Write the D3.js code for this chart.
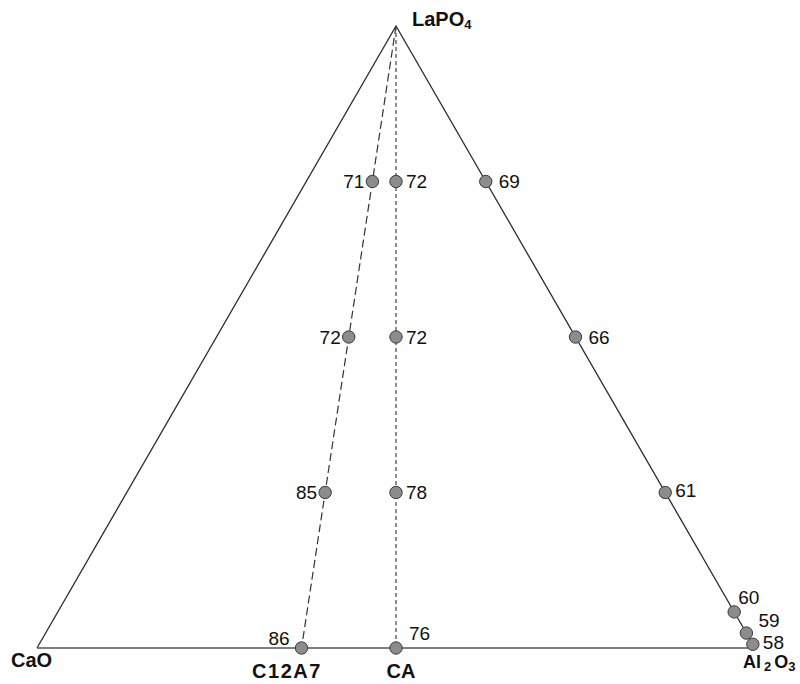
<!DOCTYPE html>
<html>
<head>
<meta charset="utf-8">
<script src="https://cdn.jsdelivr.net/npm/d3@7/dist/d3.min.js"></script>
<style>
  html, body { margin: 0; padding: 0; background: #fff; }
  svg { display: block; font-family: "Liberation Sans", Arial, Helvetica, sans-serif; }
</style>
</head>
<body>
<svg id="chart" width="800" height="684"></svg>
<script>
// ---- Data ----
const vertices = ["CaO", "Al2O3", "LaPO4"];
const joinNames = ["C12A7", "CA"];
const c12a7AlFraction = 7 / 19;   // Al2O3 share of C12A7 (12CaO·7Al2O3)
const caAlFraction = 0.5;         // Al2O3 share of CA (CaO·Al2O3)
const joinLaPO4 = [0.75, 0.5, 0.25, 0];
const c12a7Values = [71, 72, 85, 86];
const caValues = [72, 72, 78, 76];
const edgeLaPO4 = [0.75, 0.5, 0.25, 0.058, 0.024, 0.006];
const edgeValues = [69, 66, 61, 60, 59, 58];

// ---- Scales ----
const svg = d3.select("#chart");
const H = Math.sqrt(3) / 2;
const x = d3.scaleLinear().domain([0, 1]).range([37, 755]);
const y = d3.scaleLinear().domain([0, H]).range([648, 26]);

// ternary -> cartesian (la = LaPO4, al = Al2O3, rest CaO)
function proj(la, al) {
  return [x(al + la / 2), y(la * H)];
}

// ---- Points ----
const pts = [];
joinLaPO4.forEach((la, i) => {
  pts.push({ set: "C12A7", la, al: (1 - la) * c12a7AlFraction, v: c12a7Values[i], i });
});
joinLaPO4.forEach((la, i) => {
  pts.push({ set: "CA", la, al: (1 - la) * caAlFraction, v: caValues[i], i });
});
edgeLaPO4.forEach((la, i) => {
  pts.push({ set: "edge", la, al: 1 - la, v: edgeValues[i], i });
});

// ---- Triangle ----
const A = proj(0, 0), B = proj(0, 1), C = proj(1, 0);
svg.append("path")
  .attr("d", `M${A[0]},${A[1]}L${C[0]},${C[1]}L${B[0]},${B[1]}`)
  .attr("fill", "none").attr("stroke", "#2a2a2a").attr("stroke-width", 1.3);
svg.append("line")
  .attr("x1", A[0]).attr("y1", A[1]).attr("x2", B[0]).attr("y2", B[1])
  .attr("stroke", "#555").attr("stroke-width", 1.5);

// ---- Join lines ----
const c12Base = proj(0, c12a7AlFraction);
svg.append("line")
  .attr("x1", C[0]).attr("y1", C[1]).attr("x2", c12Base[0]).attr("y2", c12Base[1])
  .attr("stroke", "#333").attr("stroke-width", 1.2).attr("stroke-dasharray", "8,4");
const caBase = proj(0, caAlFraction);
svg.append("line")
  .attr("x1", C[0]).attr("y1", C[1]).attr("x2", caBase[0]).attr("y2", caBase[1])
  .attr("stroke", "#444").attr("stroke-width", 1.2).attr("stroke-dasharray", "4,3");

// ---- Markers ----
svg.append("g").selectAll("circle").data(pts).join("circle")
  .attr("cx", d => proj(d.la, d.al)[0])
  .attr("cy", d => proj(d.la, d.al)[1])
  .attr("r", 6.2)
  .attr("fill", "#8c8c8c")
  .attr("stroke", "#3a3a3a")
  .attr("stroke-width", 1);

// ---- Value labels ----
function offset(d) {
  if (d.set === "C12A7") {
    if (d.la === 0) return [-12, -10, "end"];
    return [-8, 0, "end"];
  }
  if (d.set === "CA") {
    if (d.la === 0) return [13, -15, "start"];
    return [10, 0, "start"];
  }
  // edge
  if (d.v === 60) return [4, -15, "start"];
  if (d.v === 59) return [12, -13, "start"];
  if (d.v === 58) return [10, -2, "start"];
  if (d.v === 61) return [10, -2, "start"];
  return [13, 0, "start"];
}
svg.append("g").selectAll("text").data(pts).join("text")
  .attr("x", d => proj(d.la, d.al)[0] + offset(d)[0])
  .attr("y", d => proj(d.la, d.al)[1] + offset(d)[1])
  .attr("dy", "0.36em")
  .attr("text-anchor", d => offset(d)[2])
  .attr("font-size", 19)
  .attr("fill", "#111")
  .text(d => d.v);

// ---- Vertex / compound labels ----
const lab = svg.append("g").attr("font-weight", "bold").attr("font-size", 20).attr("fill", "#111");
const t1 = lab.append("text").attr("x", 412).attr("y", 26).attr("font-size", 20);
t1.append("tspan").text("LaPO");
t1.append("tspan").attr("font-size", 13).attr("dy", 3).text("4");

lab.append("text").attr("x", 11).attr("y", 667).text("CaO");

const t3 = lab.append("text").attr("x", 743).attr("y", 668).attr("font-size", 18);
t3.append("tspan").text("Al");
t3.append("tspan").attr("font-size", 13).attr("dx", 3).attr("dy", 3).text("2");
t3.append("tspan").attr("dx", 3).attr("dy", -3).text("O");
t3.append("tspan").attr("font-size", 13).attr("dy", 3).text("3");

lab.append("text").attr("x", 287).attr("y", 678).attr("text-anchor", "middle")
  .attr("letter-spacing", 1.5).text(joinNames[0]);
lab.append("text").attr("x", 401).attr("y", 678).attr("text-anchor", "middle").text(joinNames[1]);
</script>
</body>
</html>
